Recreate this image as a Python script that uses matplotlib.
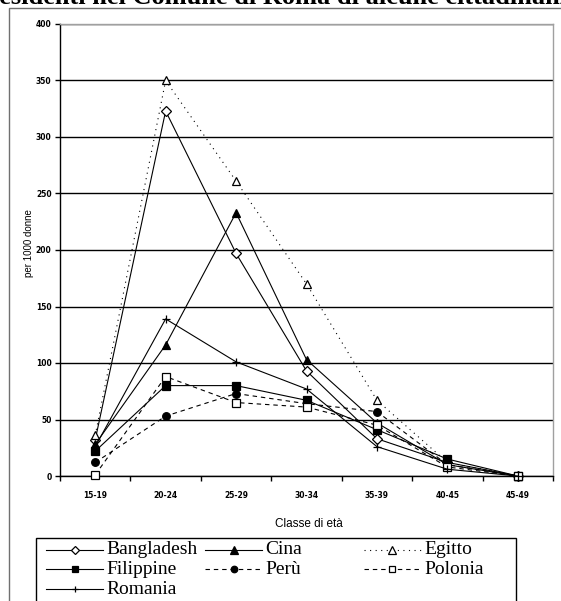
import matplotlib
matplotlib.use("Agg")
import matplotlib.pyplot as plt
from matplotlib.lines import Line2D
from matplotlib.patches import Rectangle

categories = ["15-19", "20-24", "25-29", "30-34", "35-39", "40-45", "45-49"]
bangladesh = [32, 323, 197, 93, 33, 12, 0]
cina = [28, 116, 233, 103, 47, 10, 0]
egitto = [36, 350, 261, 170, 67, 12, 0]
filippine = [22, 80, 80, 67, 41, 15, 0]
peru = [12, 53, 73, 64, 57, 10, 0]
polonia = [1, 88, 65, 61, 45, 8, 0]
romania = [26, 139, 101, 77, 26, 6, 0]
y_ticks = [0, 50, 100, 150, 200, 250, 300, 350, 400]

W, H = 561, 601
fig = plt.figure(figsize=(W / 100, H / 100), dpi=100)

def px(x0, y0, x1, y1):
    return [x0 / W, 1 - y1 / H, (x1 - x0) / W, (y1 - y0) / H]

def fx(x):
    return x / W

def fy(y):
    return 1 - y / H

# outer chart frame (right and bottom edges lie outside the picture)
fig.patches.append(Rectangle((fx(9), -0.2), fx(700), fy(8) + 0.2,
                             transform=fig.transFigure, fill=False,
                             edgecolor="#707070", lw=1.0))

# cut-off title at the very top
fig.text(fx(-12), fy(4), "residenti nel Comune di Roma di alcune cittadinanze",
         family="Liberation Serif", weight="bold", fontsize=19, va="baseline",
         ha="left")

ax = fig.add_axes(px(60, 24, 553, 476))
x = [i + 0.5 for i in range(len(categories))]

styles = {
    "Bangladesh": dict(ls="-", marker="D", mfc="white", ms=5),
    "Cina": dict(ls="-", marker="^", mfc="black", ms=6),
    "Egitto": dict(ls=(0, (1, 4)), marker="^", mfc="white", ms=6),
    "Filippine": dict(ls="-", marker="s", mfc="black", ms=5.5),
    "Perù": dict(ls=(0, (4, 3.5)), marker="o", mfc="black", ms=5.5),
    "Polonia": dict(ls=(0, (4, 3.5)), marker="s", mfc="white", ms=5.5),
    "Romania": dict(ls="-", marker="+", mfc="black", ms=5.5),
}
data = {"Bangladesh": bangladesh, "Cina": cina, "Egitto": egitto,
        "Filippine": filippine, "Perù": peru, "Polonia": polonia,
        "Romania": romania}
for name, vals in data.items():
    ax.plot(x, vals, color="black", lw=0.8, mec="black", mew=0.9,
            zorder=3, clip_on=False, **styles[name])

ax.set_xlim(0, len(categories))
ax.set_ylim(0, 400)
ax.set_yticks(y_ticks)
ax.set_yticklabels([str(v) for v in y_ticks])
ax.set_xticks(range(len(categories) + 1))
ax.set_xticklabels([])
ax.set_xticks(x, minor=True)
ax.set_xticklabels(categories, minor=True)
ax.tick_params(axis="x", which="minor", length=0, pad=11, labelsize=5.5)
ax.tick_params(axis="x", which="major", length=3.6, direction="out", width=1)
ax.tick_params(axis="y", length=3.6, direction="out", width=1, labelsize=5.5, pad=2.5)
for lab in ax.get_xticklabels(minor=True) + ax.get_yticklabels():
    lab.set_fontweight("bold")
ax.grid(axis="y", color="black", lw=1.0, zorder=1)
ax.set_axisbelow(True)
for s in ("top", "right"):
    ax.spines[s].set_color("#a0a0a0")
    ax.spines[s].set_linewidth(1.0)
for s in ("left", "bottom"):
    ax.spines[s].set_color("black")
    ax.spines[s].set_linewidth(1.0)

fig.text(fx(29), fy(243), "per 1000 donne", fontsize=7, family="Liberation Sans",
         rotation=90, ha="center", va="center")
fig.text(fx(309), fy(524), "Classe di età", fontsize=8.5, family="Liberation Sans",
         ha="center", va="center")

# legend drawn as a box with three equal-width columns
fig.patches.append(Rectangle((fx(36), -0.2), fx(516 - 36), fy(538) + 0.2,
                             transform=fig.transFigure, fill=False,
                             edgecolor="black", lw=1.0))
legend_rows = [["Bangladesh", "Cina", "Egitto"],
               ["Filippine", "Perù", "Polonia"],
               ["Romania"]]
col_x = [46, 205, 364]
row_y = [550, 569, 589]
hlen = 57
for r, row in enumerate(legend_rows):
    for c, name in enumerate(row):
        st = dict(styles[name])
        marker = st.pop("marker")
        mfc = st.pop("mfc")
        ms = st.pop("ms")
        ls = st.pop("ls")
        x0, x1 = col_x[c], col_x[c] + hlen
        yy = fy(row_y[r])
        fig.add_artist(Line2D([fx(x0), fx(x1)], [yy, yy], transform=fig.transFigure,
                              color="black", lw=0.8, ls=ls))
        fig.add_artist(Line2D([fx((x0 + x1) / 2)], [yy], transform=fig.transFigure,
                              color="black", marker=marker, mfc=mfc, mec="black",
                              ms=ms * 0.85, mew=0.9, ls="none"))
        fig.text(fx(x1 + 3), yy, name, family="Liberation Serif", fontsize=14,
                 ha="left", va="center")

fig.savefig("out.png", dpi=100)
